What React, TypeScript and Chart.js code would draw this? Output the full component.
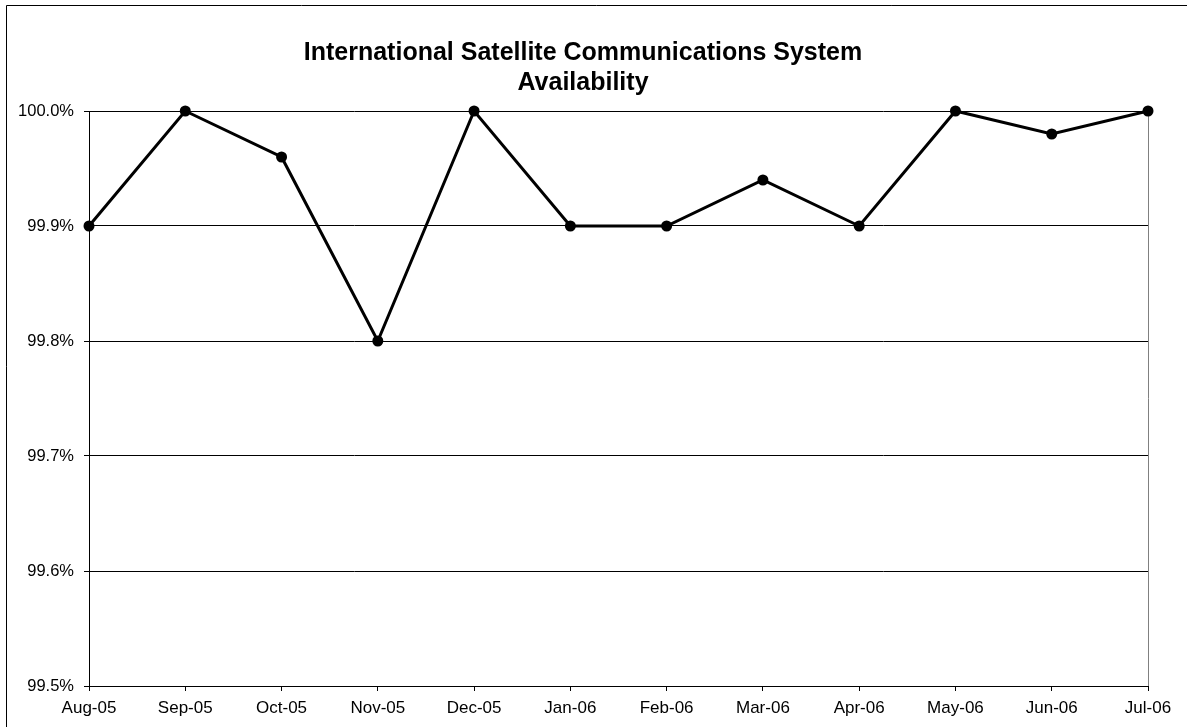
import React, { useEffect, useRef } from "react";
import { Chart, registerables } from "chart.js";

Chart.register(...registerables);

const months = ["Aug-05","Sep-05","Oct-05","Nov-05","Dec-05","Jan-06","Feb-06","Mar-06","Apr-06","May-06","Jun-06","Jul-06"];
const availability = [99.9, 100.0, 99.96, 99.8, 100.0, 99.9, 99.9, 99.94, 99.9, 100.0, 99.98, 100.0];
const titleLines = ["International Satellite Communications System", "Availability"];
const yMin = 99.5;
const yMax = 100.0;
const yStep = 0.1;

const FONT = "'Liberation Sans', Arial, sans-serif";

export default function App() {
  const ref = useRef<HTMLCanvasElement>(null);
  useEffect(() => {
    const canvas = ref.current!;
    const framePlugin = {
      id: "frame",
      beforeDraw(chart: any) {
        const ctx = chart.ctx;
        ctx.save();
        ctx.fillStyle = "#fff";
        ctx.fillRect(0, 0, chart.width, chart.height);
        ctx.restore();
      },
      beforeDatasetsDraw(chart: any) {
        const ctx = chart.ctx;
        const a = chart.chartArea;
        ctx.save();
        ctx.strokeStyle = "#808080";
        ctx.lineWidth = 1;
        ctx.beginPath();
        ctx.moveTo(Math.round(a.right) + 0.5, a.top);
        ctx.lineTo(Math.round(a.right) + 0.5, a.bottom);
        ctx.stroke();
        ctx.restore();
      },
      afterDraw(chart: any) {
        const ctx = chart.ctx;
        ctx.save();
        ctx.strokeStyle = "#000";
        ctx.lineWidth = 1;
        ctx.beginPath();
        ctx.moveTo(6.5, chart.height);
        ctx.lineTo(6.5, 5.5);
        ctx.lineTo(chart.width, 5.5);
        ctx.stroke();
        ctx.fillStyle = "#000";
        ctx.font = `bold 25px ${FONT}`;
        ctx.textAlign = "center";
        ctx.textBaseline = "alphabetic";
        const cx = 583;
        ctx.fillText(titleLines[0], cx, 60);
        ctx.fillText(titleLines[1], cx, 90);
        ctx.restore();
      },
    };
    const chart = new Chart(canvas, {
      type: "line",
      data: {
        labels: months,
        datasets: [
          {
            data: availability,
            borderColor: "#000",
            backgroundColor: "#000",
            borderWidth: 3,
            pointRadius: 5.5,
            pointBackgroundColor: "#000",
            pointBorderColor: "#000",
            pointBorderWidth: 0,
            tension: 0,
            clip: false as any,
          },
        ],
      },
      options: {
        animation: false,
        responsive: false,
        devicePixelRatio: 1,
        layout: { padding: { top: 111, right: 39, left: 0, bottom: 0 } },
        plugins: { legend: { display: false }, title: { display: false }, tooltip: { enabled: false } },
        scales: {
          x: {
            offset: false,
            grid: { display: true, drawOnChartArea: false, drawTicks: true, tickLength: 5, color: "#000", lineWidth: 1 },
            border: { display: true, color: "#000", width: 1 },
            ticks: { color: "#000", font: { family: FONT, size: 17 }, padding: 7, maxRotation: 0, autoSkip: false },
            afterFit(scale: any) { scale.height = 41; },
          },
          y: {
            min: yMin,
            max: yMax,
            grid: { color: "#000", lineWidth: 1, tickLength: 5, drawTicks: true },
            border: { display: true, color: "#000", width: 1 },
            ticks: {
              stepSize: yStep,
              color: "#000",
              font: { family: FONT, size: 16.5 },
              padding: 10,
              callback: (v: any) => Number(v).toFixed(1) + "%",
            },
            afterFit(scale: any) { scale.width = 89; },
          },
        },
      },
      plugins: [framePlugin],
    });
    return () => chart.destroy();
  }, []);
  return (
    <div style={{ position: "fixed", left: 0, top: 0, width: 1187, height: 727, background: "#fff" }}>
      <canvas ref={ref} width={1187} height={727} style={{ display: "block" }} />
    </div>
  );
}
